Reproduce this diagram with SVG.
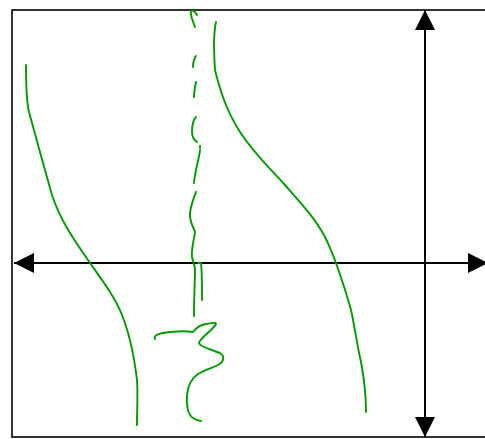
<svg xmlns="http://www.w3.org/2000/svg" width="485" height="439" viewBox="0 0 485 439">
<style>
.frame{fill:none;stroke:#000;stroke-width:1.6}
.axis{fill:none;stroke:#000;stroke-width:2}
.g{fill:none;stroke:#009900;stroke-width:1.9;stroke-linecap:round;stroke-linejoin:round}
</style>
<defs>
<marker id="ah" viewBox="0 0 20 20" refX="20" refY="10" markerWidth="20" markerHeight="20" markerUnits="userSpaceOnUse" orient="auto-start-reverse">
<path d="M0,0 L20,10 L0,20 Z" fill="#000"/>
</marker>
</defs>
<rect width="485" height="439" fill="#fff"/>
<rect class="frame" x="12" y="10" width="490" height="427"/>
<g id="connectors">
<path class="axis" d="M14,263 L488,263" marker-start="url(#ah)" marker-end="url(#ah)"/>
<path class="axis" d="M425,10 L425,437" marker-start="url(#ah)" marker-end="url(#ah)"/>
</g>
<g id="curves">
<path class="g" d="M26,65 C26,80 26,100 29,112 C34,130 42,160 52,195 C62,225 78,245 90,263 C102,280 115,297 122,315 C130,335 134,355 137,380 C138,395 137,410 137,425"/>
<path class="g" d="M216,22 C213,35 214,55 215,70 C220,90 226,110 240,132 C255,155 270,168 285,185 C300,202 315,218 325,237 C330,247 333,255 336,263 C342,280 347,295 351,310 C355,328 357,345 361,362 C364,378 366,395 366,412"/>
<path class="g" d="M197,15 C195,11 192,10 191,11 C190,14 193,22 195,27"/>
<path class="g" d="M196,56 C194,59 193,62 193,67"/>
<path class="g" d="M196,82 C195,87 194,92 194,97"/>
<path class="g" d="M196,117 C193,120 192,125 192,132 C192,137 194,140 197,142"/>
<path class="g" d="M200,146 L200,148"/>
<path class="g" d="M200,150 C199,160 195,170 194,183"/>
<path class="g" d="M196,192 C193,200 189,210 190,217 C191,225 194,228 195,232 C194,240 191,250 192,257 C193,262 195,265 195,270 C195,280 194,295 194,316"/>
<path class="g" d="M198,263 L201,263 C202,270 202,285 202,300"/>
<path class="g" d="M155,339 C153,335 160,333 170,332 C180,331 188,331 193,332 C196,328 200,325 206,324 C212,323 216,322 216,324 C213,330 200,338 199,343 C200,347 212,350 220,353 C225,356 224,362 218,365 C212,368 205,370 198,374 C192,378 188,385 187,395 C186,405 188,415 193,418 C196,420 199,421 201,421"/>
</g>
</svg>
